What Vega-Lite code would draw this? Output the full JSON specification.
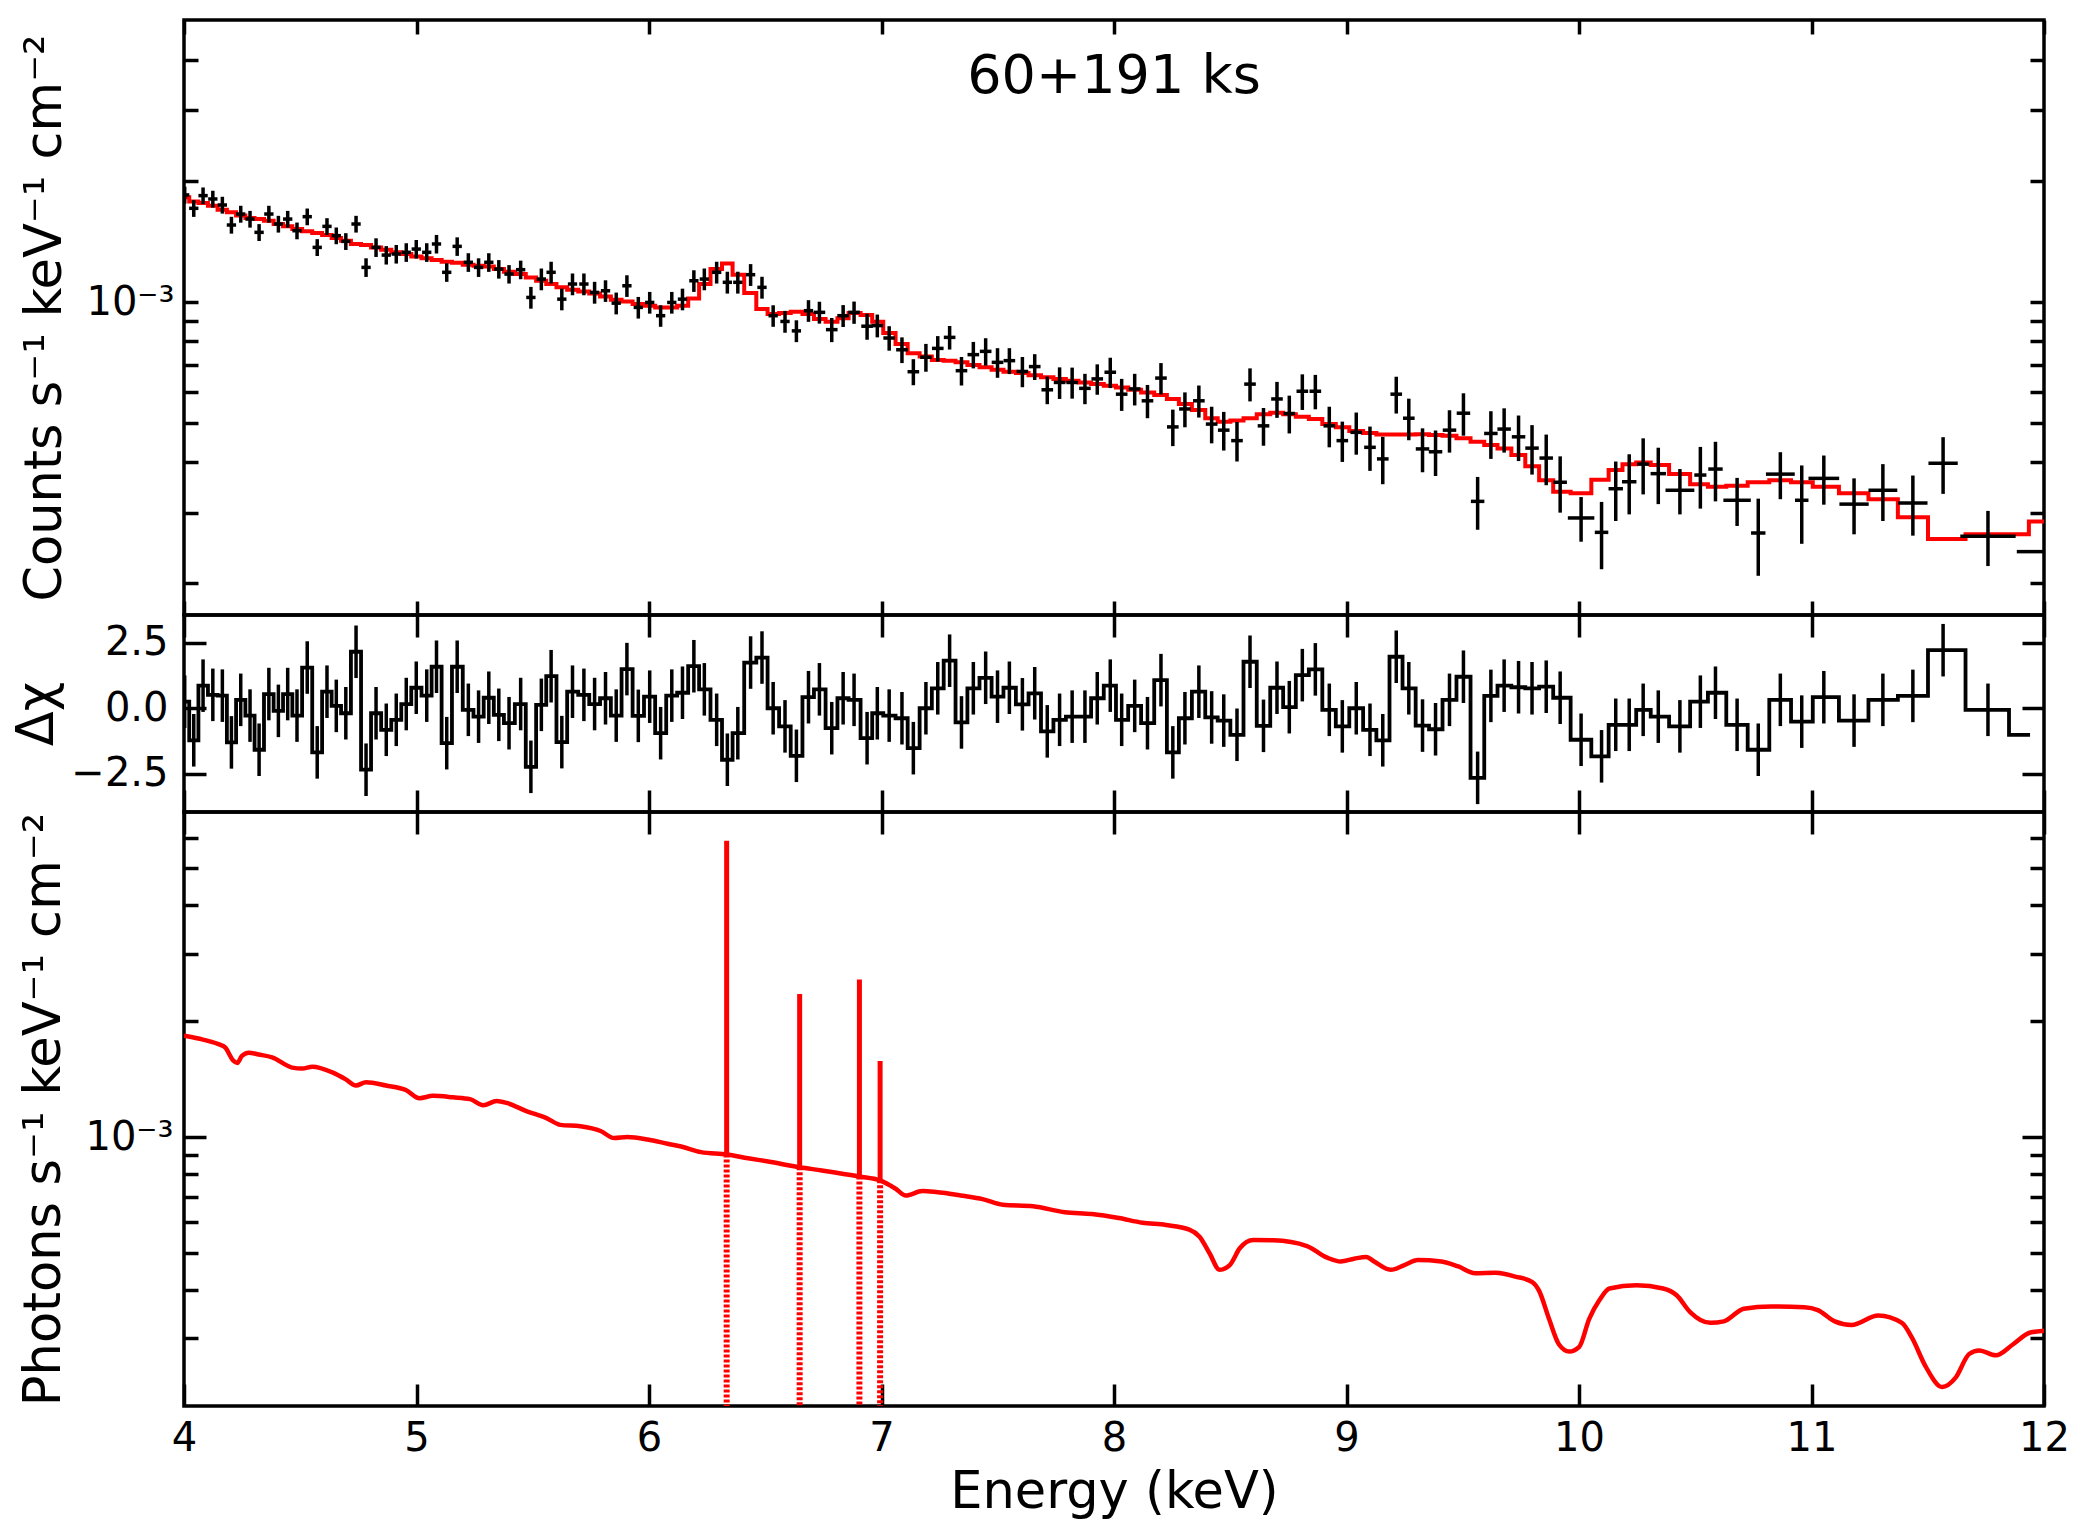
{
  "$schema": "https://vega.github.io/schema/vega-lite/v6.json",
  "background": "white",
  "padding": {"left": 10, "top": 16, "right": 20, "bottom": 20},
  "spacing": 0,
  "bounds": "flush",
  "config": {
    "font": "DejaVu Sans",
    "view": {"stroke": "black", "strokeWidth": 3.5},
    "axis": {
      "domain": false, "grid": false, "ticks": true,
      "tickColor": "black", "tickWidth": 3.5,
      "labelFont": "DejaVu Sans", "labelFontSize": 40, "labelColor": "black",
      "labelFlush": false, "labelOverlap": false,
      "titleFont": "DejaVu Sans", "titleFontSize": 51, "titleFontWeight": "normal", "titleColor": "black"
    }
  },
  "datasets": {
    "bins": [
      {"e":4.003,"xe":0.02,"f":0.001848,"fe":0.000089,"r":0.25,"re":1},
      {"e":4.042,"xe":0.02,"f":0.001712,"fe":0.000082,"r":-1.22,"re":1},
      {"e":4.082,"xe":0.02,"f":0.001841,"fe":0.000088,"r":0.86,"re":1},
      {"e":4.124,"xe":0.02,"f":0.001806,"fe":0.000087,"r":0.51,"re":1},
      {"e":4.165,"xe":0.02,"f":0.001745,"fe":0.000084,"r":0.48,"re":1},
      {"e":4.204,"xe":0.02,"f":0.001556,"fe":0.000075,"r":-1.30,"re":1},
      {"e":4.244,"xe":0.02,"f":0.001657,"fe":0.000080,"r":0.32,"re":1},
      {"e":4.284,"xe":0.02,"f":0.001610,"fe":0.000077,"r":-0.28,"re":1},
      {"e":4.323,"xe":0.02,"f":0.001492,"fe":0.000072,"r":-1.58,"re":1},
      {"e":4.365,"xe":0.02,"f":0.001657,"fe":0.000080,"r":0.54,"re":1},
      {"e":4.406,"xe":0.02,"f":0.001565,"fe":0.000075,"r":-0.10,"re":1},
      {"e":4.446,"xe":0.02,"f":0.001610,"fe":0.000077,"r":0.54,"re":1},
      {"e":4.486,"xe":0.02,"f":0.001506,"fe":0.000072,"r":-0.28,"re":1},
      {"e":4.530,"xe":0.02,"f":0.001632,"fe":0.000078,"r":1.55,"re":1},
      {"e":4.573,"xe":0.02,"f":0.001369,"fe":0.000066,"r":-1.68,"re":1},
      {"e":4.615,"xe":0.02,"f":0.001544,"fe":0.000074,"r":0.63,"re":1},
      {"e":4.655,"xe":0.02,"f":0.001464,"fe":0.000070,"r":0.09,"re":1},
      {"e":4.696,"xe":0.02,"f":0.001417,"fe":0.000068,"r":-0.19,"re":1},
      {"e":4.740,"xe":0.02,"f":0.001565,"fe":0.000075,"r":2.15,"re":1},
      {"e":4.783,"xe":0.02,"f":0.001221,"fe":0.000065,"r":-2.34,"re":1},
      {"e":4.826,"xe":0.02,"f":0.001369,"fe":0.000073,"r":-0.19,"re":1},
      {"e":4.870,"xe":0.02,"f":0.001310,"fe":0.000069,"r":-0.82,"re":1},
      {"e":4.913,"xe":0.02,"f":0.001318,"fe":0.000070,"r":-0.44,"re":1},
      {"e":4.956,"xe":0.02,"f":0.001331,"fe":0.000071,"r":0.16,"re":1},
      {"e":4.999,"xe":0.02,"f":0.001356,"fe":0.000072,"r":0.78,"re":1},
      {"e":5.044,"xe":0.02,"f":0.001331,"fe":0.000071,"r":0.48,"re":1},
      {"e":5.086,"xe":0.02,"f":0.001396,"fe":0.000074,"r":1.58,"re":1},
      {"e":5.130,"xe":0.02,"f":0.001187,"fe":0.000063,"r":-1.33,"re":1},
      {"e":5.175,"xe":0.02,"f":0.001377,"fe":0.000073,"r":1.58,"re":1},
      {"e":5.223,"xe":0.02,"f":0.001257,"fe":0.000067,"r":-0.06,"re":1},
      {"e":5.267,"xe":0.02,"f":0.001221,"fe":0.000065,"r":-0.32,"re":1},
      {"e":5.311,"xe":0.02,"f":0.001257,"fe":0.000067,"r":0.40,"re":1},
      {"e":5.354,"xe":0.02,"f":0.001209,"fe":0.000064,"r":-0.25,"re":1},
      {"e":5.398,"xe":0.02,"f":0.001175,"fe":0.000062,"r":-0.57,"re":1},
      {"e":5.448,"xe":0.02,"f":0.001205,"fe":0.000064,"r":0.16,"re":1},
      {"e":5.492,"xe":0.02,"f":0.001028,"fe":0.000064,"r":-2.23,"re":1},
      {"e":5.537,"xe":0.02,"f":0.001142,"fe":0.000071,"r":0.13,"re":1},
      {"e":5.579,"xe":0.02,"f":0.001187,"fe":0.000074,"r":1.22,"re":1},
      {"e":5.625,"xe":0.02,"f":0.001018,"fe":0.000063,"r":-1.29,"re":1},
      {"e":5.671,"xe":0.02,"f":0.001110,"fe":0.000069,"r":0.63,"re":1},
      {"e":5.720,"xe":0.02,"f":0.001110,"fe":0.000069,"r":0.51,"re":1},
      {"e":5.766,"xe":0.02,"f":0.001058,"fe":0.000066,"r":0.16,"re":1},
      {"e":5.813,"xe":0.02,"f":0.001068,"fe":0.000066,"r":0.38,"re":1},
      {"e":5.859,"xe":0.02,"f":0.000995,"fe":0.000062,"r":-0.28,"re":1},
      {"e":5.905,"xe":0.02,"f":0.001099,"fe":0.000068,"r":1.49,"re":1},
      {"e":5.954,"xe":0.02,"f":0.000971,"fe":0.000060,"r":-0.29,"re":1},
      {"e":6.003,"xe":0.02,"f":0.000999,"fe":0.000062,"r":0.44,"re":1},
      {"e":6.050,"xe":0.02,"f":0.000926,"fe":0.000057,"r":-0.95,"re":1},
      {"e":6.098,"xe":0.02,"f":0.000999,"fe":0.000062,"r":0.48,"re":1},
      {"e":6.144,"xe":0.02,"f":0.001018,"fe":0.000063,"r":0.59,"re":1},
      {"e":6.193,"xe":0.02,"f":0.001131,"fe":0.000070,"r":1.60,"re":1},
      {"e":6.238,"xe":0.02,"f":0.001142,"fe":0.000071,"r":0.72,"re":1},
      {"e":6.291,"xe":0.02,"f":0.001187,"fe":0.000074,"r":-0.44,"re":1},
      {"e":6.337,"xe":0.02,"f":0.001121,"fe":0.000070,"r":-1.96,"re":1},
      {"e":6.382,"xe":0.02,"f":0.001121,"fe":0.000070,"r":-0.95,"re":1},
      {"e":6.437,"xe":0.02,"f":0.001171,"fe":0.000073,"r":1.74,"re":1},
      {"e":6.486,"xe":0.02,"f":0.001089,"fe":0.000068,"r":1.93,"re":1},
      {"e":6.534,"xe":0.02,"f":0.000926,"fe":0.000057,"r":0.00,"re":1},
      {"e":6.585,"xe":0.02,"f":0.000896,"fe":0.000056,"r":-0.69,"re":1},
      {"e":6.634,"xe":0.02,"f":0.000849,"fe":0.000053,"r":-1.81,"re":1},
      {"e":6.686,"xe":0.02,"f":0.000953,"fe":0.000059,"r":0.42,"re":1},
      {"e":6.733,"xe":0.025,"f":0.000944,"fe":0.000059,"r":0.72,"re":1},
      {"e":6.786,"xe":0.025,"f":0.000855,"fe":0.000059,"r":-0.76,"re":1},
      {"e":6.835,"xe":0.025,"f":0.000926,"fe":0.000058,"r":0.38,"re":1},
      {"e":6.882,"xe":0.025,"f":0.000944,"fe":0.000060,"r":0.32,"re":1},
      {"e":6.938,"xe":0.025,"f":0.000872,"fe":0.000065,"r":-1.14,"re":1},
      {"e":6.982,"xe":0.025,"f":0.000875,"fe":0.000057,"r":-0.19,"re":1},
      {"e":7.033,"xe":0.025,"f":0.000815,"fe":0.000057,"r":-0.28,"re":1},
      {"e":7.088,"xe":0.025,"f":0.000762,"fe":0.000056,"r":-0.38,"re":1},
      {"e":7.137,"xe":0.025,"f":0.000672,"fe":0.000050,"r":-1.52,"re":1},
      {"e":7.191,"xe":0.025,"f":0.000730,"fe":0.000058,"r":0.00,"re":1},
      {"e":7.242,"xe":0.025,"f":0.000768,"fe":0.000056,"r":0.76,"re":1},
      {"e":7.293,"xe":0.025,"f":0.000818,"fe":0.000055,"r":1.81,"re":1},
      {"e":7.344,"xe":0.025,"f":0.000676,"fe":0.000055,"r":-0.54,"re":1},
      {"e":7.395,"xe":0.025,"f":0.000741,"fe":0.000056,"r":0.76,"re":1},
      {"e":7.448,"xe":0.025,"f":0.000755,"fe":0.000059,"r":1.16,"re":1},
      {"e":7.499,"xe":0.025,"f":0.000709,"fe":0.000060,"r":0.44,"re":1},
      {"e":7.550,"xe":0.025,"f":0.000716,"fe":0.000053,"r":0.78,"re":1},
      {"e":7.606,"xe":0.025,"f":0.000673,"fe":0.000058,"r":0.15,"re":1},
      {"e":7.659,"xe":0.025,"f":0.000692,"fe":0.000051,"r":0.57,"re":1},
      {"e":7.713,"xe":0.025,"f":0.000606,"fe":0.000048,"r":-0.88,"re":1},
      {"e":7.766,"xe":0.025,"f":0.000632,"fe":0.000057,"r":-0.44,"re":1},
      {"e":7.820,"xe":0.025,"f":0.000632,"fe":0.000056,"r":-0.32,"re":1},
      {"e":7.875,"xe":0.025,"f":0.000611,"fe":0.000053,"r":-0.32,"re":1},
      {"e":7.928,"xe":0.025,"f":0.000645,"fe":0.000056,"r":0.38,"re":1},
      {"e":7.984,"xe":0.025,"f":0.000670,"fe":0.000058,"r":0.86,"re":1},
      {"e":8.033,"xe":0.025,"f":0.000591,"fe":0.000054,"r":-0.44,"re":1},
      {"e":8.089,"xe":0.025,"f":0.000609,"fe":0.000055,"r":0.09,"re":1},
      {"e":8.144,"xe":0.025,"f":0.000569,"fe":0.000054,"r":-0.57,"re":1},
      {"e":8.202,"xe":0.025,"f":0.000648,"fe":0.000058,"r":1.07,"re":1},
      {"e":8.253,"xe":0.025,"f":0.000490,"fe":0.000051,"r":-1.68,"re":1},
      {"e":8.305,"xe":0.025,"f":0.000543,"fe":0.000054,"r":-0.38,"re":1},
      {"e":8.365,"xe":0.025,"f":0.000569,"fe":0.000052,"r":0.63,"re":1},
      {"e":8.420,"xe":0.025,"f":0.000498,"fe":0.000052,"r":-0.35,"re":1},
      {"e":8.472,"xe":0.025,"f":0.000481,"fe":0.000053,"r":-0.47,"re":1},
      {"e":8.529,"xe":0.025,"f":0.000453,"fe":0.000051,"r":-1.01,"re":1},
      {"e":8.585,"xe":0.025,"f":0.000626,"fe":0.000059,"r":1.77,"re":1},
      {"e":8.643,"xe":0.025,"f":0.000493,"fe":0.000053,"r":-0.67,"re":1},
      {"e":8.701,"xe":0.025,"f":0.000575,"fe":0.000059,"r":0.78,"re":1},
      {"e":8.754,"xe":0.025,"f":0.000529,"fe":0.000057,"r":0.04,"re":1},
      {"e":8.810,"xe":0.025,"f":0.000601,"fe":0.000061,"r":1.26,"re":1},
      {"e":8.866,"xe":0.025,"f":0.000601,"fe":0.000059,"r":1.48,"re":1},
      {"e":8.926,"xe":0.025,"f":0.000493,"fe":0.000057,"r":-0.06,"re":1},
      {"e":8.982,"xe":0.025,"f":0.000453,"fe":0.000052,"r":-0.69,"re":1},
      {"e":9.042,"xe":0.025,"f":0.000475,"fe":0.000057,"r":0.00,"re":1},
      {"e":9.101,"xe":0.025,"f":0.000436,"fe":0.000055,"r":-0.82,"re":1},
      {"e":9.156,"xe":0.025,"f":0.000408,"fe":0.000055,"r":-1.22,"re":1},
      {"e":9.214,"xe":0.025,"f":0.000591,"fe":0.000062,"r":1.96,"re":1},
      {"e":9.268,"xe":0.025,"f":0.000515,"fe":0.000061,"r":0.76,"re":1},
      {"e":9.327,"xe":0.029,"f":0.000432,"fe":0.000054,"r":-0.66,"re":1},
      {"e":9.383,"xe":0.029,"f":0.000425,"fe":0.000055,"r":-0.80,"re":1},
      {"e":9.443,"xe":0.029,"f":0.000481,"fe":0.000058,"r":0.32,"re":1},
      {"e":9.503,"xe":0.029,"f":0.000530,"fe":0.000064,"r":1.20,"re":1},
      {"e":9.564,"xe":0.029,"f":0.000320,"fe":0.000048,"r":-2.65,"re":1},
      {"e":9.621,"xe":0.029,"f":0.000472,"fe":0.000064,"r":0.47,"re":1},
      {"e":9.678,"xe":0.029,"f":0.000484,"fe":0.000061,"r":0.86,"re":1},
      {"e":9.740,"xe":0.029,"f":0.000463,"fe":0.000060,"r":0.80,"re":1},
      {"e":9.798,"xe":0.029,"f":0.000434,"fe":0.000061,"r":0.76,"re":1},
      {"e":9.859,"xe":0.029,"f":0.000410,"fe":0.000059,"r":0.82,"re":1},
      {"e":9.919,"xe":0.029,"f":0.000357,"fe":0.000057,"r":0.40,"re":1},
      {"e":10.009,"xe":0.057,"f":0.000291,"fe":0.000037,"r":-1.20,"re":1},
      {"e":10.097,"xe":0.029,"f":0.000268,"fe":0.000051,"r":-1.83,"re":1},
      {"e":10.158,"xe":0.031,"f":0.000344,"fe":0.000058,"r":-0.63,"re":1},
      {"e":10.216,"xe":0.031,"f":0.000358,"fe":0.000061,"r":-0.63,"re":1},
      {"e":10.276,"xe":0.026,"f":0.000396,"fe":0.000063,"r":-0.06,"re":1},
      {"e":10.341,"xe":0.033,"f":0.000375,"fe":0.000060,"r":-0.32,"re":1},
      {"e":10.434,"xe":0.062,"f":0.000341,"fe":0.000044,"r":-0.69,"re":1},
      {"e":10.522,"xe":0.026,"f":0.000372,"fe":0.000065,"r":0.25,"re":1},
      {"e":10.587,"xe":0.031,"f":0.000385,"fe":0.000065,"r":0.59,"re":1},
      {"e":10.680,"xe":0.059,"f":0.000322,"fe":0.000044,"r":-0.63,"re":1},
      {"e":10.771,"xe":0.031,"f":0.000267,"fe":0.000058,"r":-1.58,"re":1},
      {"e":10.866,"xe":0.062,"f":0.000374,"fe":0.000050,"r":0.32,"re":1},
      {"e":10.958,"xe":0.029,"f":0.000322,"fe":0.000071,"r":-0.51,"re":1},
      {"e":11.053,"xe":0.066,"f":0.000365,"fe":0.000051,"r":0.42,"re":1},
      {"e":11.183,"xe":0.063,"f":0.000315,"fe":0.000050,"r":-0.47,"re":1},
      {"e":11.307,"xe":0.062,"f":0.000341,"fe":0.000055,"r":0.32,"re":1},
      {"e":11.436,"xe":0.063,"f":0.000317,"fe":0.000054,"r":0.47,"re":1},
      {"e":11.566,"xe":0.063,"f":0.000398,"fe":0.000064,"r":2.21,"re":1},
      {"e":11.759,"xe":0.119,"f":0.000262,"fe":0.000041,"r":-0.06,"re":1},
      {"e":11.940,"xe":0.057,"f":0.000240,"fe":0.0,"r":-1.01,"re":0}
    ],
    "model": [
      {"e":4.0,"m":0.001823},{"e":4.003,"m":0.001823},{"e":4.042,"m":0.001779},{"e":4.082,"m":0.001765},
      {"e":4.124,"m":0.001738},{"e":4.165,"m":0.001699},{"e":4.204,"m":0.001673},{"e":4.244,"m":0.001642},
      {"e":4.284,"m":0.001620},{"e":4.323,"m":0.001610},{"e":4.365,"m":0.001595},{"e":4.406,"m":0.001565},
      {"e":4.446,"m":0.001544},{"e":4.486,"m":0.001521},{"e":4.530,"m":0.001501},{"e":4.573,"m":0.001486},
      {"e":4.615,"m":0.001469},{"e":4.655,"m":0.001444},{"e":4.696,"m":0.001423},{"e":4.740,"m":0.001396},
      {"e":4.783,"m":0.001388},{"e":4.826,"m":0.001369},{"e":4.870,"m":0.001351},{"e":4.913,"m":0.001331},
      {"e":4.956,"m":0.001318},{"e":4.999,"m":0.001300},{"e":5.044,"m":0.001286},{"e":5.086,"m":0.001274},
      {"e":5.130,"m":0.001261},{"e":5.175,"m":0.001254},{"e":5.223,"m":0.001240},{"e":5.267,"m":0.001233},
      {"e":5.311,"m":0.001228},{"e":5.354,"m":0.001209},{"e":5.398,"m":0.001191},{"e":5.448,"m":0.001175},
      {"e":5.492,"m":0.001153},{"e":5.537,"m":0.001131},{"e":5.579,"m":0.001110},{"e":5.625,"m":0.001089},
      {"e":5.671,"m":0.001074},{"e":5.720,"m":0.001064},{"e":5.766,"m":0.001052},{"e":5.813,"m":0.001034},
      {"e":5.859,"m":0.001015},{"e":5.905,"m":0.001005},{"e":5.954,"m":0.000990},{"e":6.003,"m":0.000980},
      {"e":6.050,"m":0.000971},{"e":6.098,"m":0.000971},{"e":6.144,"m":0.000980},{"e":6.193,"m":0.001022},
      {"e":6.238,"m":0.001110},{"e":6.291,"m":0.001209},{"e":6.337,"m":0.001249},{"e":6.382,"m":0.001171},
      {"e":6.437,"m":0.001054},{"e":6.486,"m":0.000962},{"e":6.534,"m":0.000935},{"e":6.585,"m":0.000940},
      {"e":6.634,"m":0.000947},{"e":6.686,"m":0.000935},{"e":6.733,"m":0.000909},{"e":6.786,"m":0.000895},
      {"e":6.835,"m":0.000912},{"e":6.882,"m":0.000941},{"e":6.938,"m":0.000930},{"e":6.982,"m":0.000895},
      {"e":7.033,"m":0.000839},{"e":7.088,"m":0.000788},{"e":7.137,"m":0.000747},{"e":7.191,"m":0.000733},
      {"e":7.242,"m":0.000719},{"e":7.293,"m":0.000716},{"e":7.344,"m":0.000709},{"e":7.395,"m":0.000698},
      {"e":7.448,"m":0.000689},{"e":7.499,"m":0.000680},{"e":7.550,"m":0.000672},{"e":7.606,"m":0.000667},
      {"e":7.659,"m":0.000659},{"e":7.713,"m":0.000651},{"e":7.766,"m":0.000645},{"e":7.820,"m":0.000638},
      {"e":7.875,"m":0.000632},{"e":7.928,"m":0.000626},{"e":7.984,"m":0.000620},{"e":8.033,"m":0.000614},
      {"e":8.089,"m":0.000606},{"e":8.144,"m":0.000597},{"e":8.202,"m":0.000588},{"e":8.253,"m":0.000575},
      {"e":8.305,"m":0.000559},{"e":8.365,"m":0.000540},{"e":8.420,"m":0.000515},{"e":8.472,"m":0.000505},
      {"e":8.529,"m":0.000508},{"e":8.585,"m":0.000515},{"e":8.643,"m":0.000527},{"e":8.701,"m":0.000531},
      {"e":8.754,"m":0.000527},{"e":8.810,"m":0.000519},{"e":8.866,"m":0.000513},{"e":8.926,"m":0.000498},
      {"e":8.982,"m":0.000489},{"e":9.042,"m":0.000479},{"e":9.101,"m":0.000473},{"e":9.156,"m":0.000469},
      {"e":9.214,"m":0.000469},{"e":9.268,"m":0.000469},{"e":9.327,"m":0.000470},{"e":9.383,"m":0.000468},
      {"e":9.443,"m":0.000466},{"e":9.503,"m":0.000459},{"e":9.564,"m":0.000450},{"e":9.621,"m":0.000442},
      {"e":9.678,"m":0.000433},{"e":9.740,"m":0.000417},{"e":9.798,"m":0.000391},{"e":9.859,"m":0.000361},
      {"e":9.919,"m":0.000338},{"e":10.009,"m":0.000335},{"e":10.097,"m":0.000362},{"e":10.158,"m":0.000383},
      {"e":10.216,"m":0.000396},{"e":10.276,"m":0.000400},{"e":10.341,"m":0.000394},{"e":10.434,"m":0.000374},
      {"e":10.522,"m":0.000353},{"e":10.587,"m":0.000348},{"e":10.680,"m":0.000350},{"e":10.771,"m":0.000357},
      {"e":10.866,"m":0.000361},{"e":10.958,"m":0.000357},{"e":11.053,"m":0.000348},{"e":11.183,"m":0.000335},
      {"e":11.307,"m":0.000324},{"e":11.436,"m":0.000292},{"e":11.566,"m":0.000258},{"e":11.759,"m":0.000265},
      {"e":11.930,"m":0.000265},{"e":11.940,"m":0.000285},{"e":12.0,"m":0.000285}
    ],
    "cont": [
      {"e":4.0,"c":0.001835},{"e":4.062,"c":0.001804},{"e":4.148,"c":0.001744},{"e":4.177,"c":0.001710},
      {"e":4.212,"c":0.001581},{"e":4.229,"c":0.001559},{"e":4.249,"c":0.001626},{"e":4.278,"c":0.001658},
      {"e":4.321,"c":0.001640},{"e":4.379,"c":0.001612},{"e":4.465,"c":0.001516},{"e":4.509,"c":0.001507},
      {"e":4.552,"c":0.001524},{"e":4.638,"c":0.001473},{"e":4.696,"c":0.001413},{"e":4.739,"c":0.001362},
      {"e":4.783,"c":0.001389},{"e":4.869,"c":0.001362},{"e":4.956,"c":0.001324},{"e":5.013,"c":0.001262},
      {"e":5.071,"c":0.001280},{"e":5.157,"c":0.001269},{"e":5.230,"c":0.001255},{"e":5.287,"c":0.001210},
      {"e":5.345,"c":0.001241},{"e":5.388,"c":0.001227},{"e":5.475,"c":0.001167},{"e":5.561,"c":0.001119},
      {"e":5.619,"c":0.001076},{"e":5.705,"c":0.001067},{"e":5.792,"c":0.001037},{"e":5.850,"c":0.000994},
      {"e":5.907,"c":0.001000},{"e":5.994,"c":0.000986},{"e":6.080,"c":0.000961},{"e":6.138,"c":0.000945},
      {"e":6.224,"c":0.000914},{"e":6.334,"c":0.000901},{"e":6.426,"c":0.000881},{"e":6.513,"c":0.000864},
      {"e":6.648,"c":0.000835},{"e":6.743,"c":0.000819},{"e":6.905,"c":0.000790},{"e":6.994,"c":0.000772},
      {"e":7.061,"c":0.000734},{"e":7.104,"c":0.000705},{"e":7.176,"c":0.000724},{"e":7.234,"c":0.000720},
      {"e":7.349,"c":0.000704},{"e":7.435,"c":0.000690},{"e":7.522,"c":0.000667},{"e":7.652,"c":0.000661},
      {"e":7.789,"c":0.000638},{"e":7.905,"c":0.000631},{"e":8.021,"c":0.000616},{"e":8.122,"c":0.000599},
      {"e":8.223,"c":0.000591},{"e":8.324,"c":0.000575},{"e":8.368,"c":0.000551},{"e":8.411,"c":0.000499},
      {"e":8.454,"c":0.000452},{"e":8.498,"c":0.000465},{"e":8.541,"c":0.000514},{"e":8.599,"c":0.000540},
      {"e":8.686,"c":0.000539},{"e":8.830,"c":0.000521},{"e":8.917,"c":0.000486},{"e":8.975,"c":0.000475},
      {"e":9.033,"c":0.000483},{"e":9.085,"c":0.000488},{"e":9.119,"c":0.000475},{"e":9.191,"c":0.000452},
      {"e":9.249,"c":0.000465},{"e":9.307,"c":0.000479},{"e":9.408,"c":0.000475},{"e":9.481,"c":0.000461},
      {"e":9.553,"c":0.000443},{"e":9.640,"c":0.000444},{"e":9.726,"c":0.000434},{"e":9.799,"c":0.000420},
      {"e":9.828,"c":0.000399},{"e":9.871,"c":0.000337},{"e":9.914,"c":0.000289},{"e":9.958,"c":0.000277},
      {"e":10.001,"c":0.000285},{"e":10.044,"c":0.000337},{"e":10.088,"c":0.000377},{"e":10.131,"c":0.000404},
      {"e":10.247,"c":0.000412},{"e":10.362,"c":0.000404},{"e":10.420,"c":0.000388},{"e":10.478,"c":0.000351},
      {"e":10.565,"c":0.000329},{"e":10.623,"c":0.000332},{"e":10.709,"c":0.000358},{"e":10.825,"c":0.000363},
      {"e":10.969,"c":0.000361},{"e":11.027,"c":0.000355},{"e":11.100,"c":0.000332},{"e":11.172,"c":0.000325},
      {"e":11.287,"c":0.000344},{"e":11.389,"c":0.000329},{"e":11.432,"c":0.000301},{"e":11.490,"c":0.000254},
      {"e":11.562,"c":0.000224},{"e":11.620,"c":0.000237},{"e":11.678,"c":0.000273},{"e":11.721,"c":0.000279},
      {"e":11.793,"c":0.000271},{"e":11.866,"c":0.000289},{"e":11.938,"c":0.000310},{"e":12.0,"c":0.000314}
    ],
    "lines": [
      {"e":6.334,"top":0.005889,"base":0.000901},
      {"e":6.648,"top":0.002356,"base":0.000835},
      {"e":6.905,"top":0.002570,"base":0.000790},
      {"e":6.994,"top":0.001577,"base":0.000772}
    ],
    "label": [
      {"e":8.0,"v":0.00363,"t":"60+191 ks"}
    ]
  },
  "vconcat": [
    {
      "width": 1860,
      "height": 595,
      "resolve": {"axis": {"x": "independent", "y": "independent"}},
      "layer": [
        {
          "data": {"name": "model"},
          "mark": {"type": "line", "interpolate": "step", "color": "#ff0000", "strokeWidth": 4, "clip": true},
          "encoding": {
            "x": {"field": "e", "type": "quantitative",
              "scale": {"domain": [4, 12], "nice": false, "zero": false},
              "axis": {"orient": "bottom", "values": [4, 5, 6, 7, 8, 9, 10, 11, 12], "labels": false, "tickSize": -14, "title": null}},
            "y": {"field": "m", "type": "quantitative",
              "scale": {"type": "log", "domain": [0.000167, 0.00503], "nice": false},
              "axis": {"orient": "left", "values": [0.0002, 0.0003, 0.0004, 0.0005, 0.0006, 0.0007, 0.0008, 0.0009, 0.001, 0.002, 0.003, 0.004],
                "labelExpr": "datum.value == 0.001 ? '10⁻³' : ''", "tickSize": -14, "labelPadding": 24,
                "title": "Counts s⁻¹ keV⁻¹ cm⁻²", "titlePadding": 14}}
          }
        },
        {
          "data": {"name": "bins"},
          "mark": {"type": "errorbar", "color": "black", "thickness": 3.5, "clip": true},
          "encoding": {
            "x": {"field": "e", "type": "quantitative",
              "scale": {"domain": [4, 12], "nice": false, "zero": false},
              "axis": {"orient": "top", "values": [4, 5, 6, 7, 8, 9, 10, 11, 12], "labels": false, "tickSize": -14, "title": null}},
            "y": {"field": "f", "type": "quantitative",
              "scale": {"type": "log", "domain": [0.000167, 0.00503], "nice": false},
              "axis": {"orient": "right", "values": [0.0002, 0.0003, 0.0004, 0.0005, 0.0006, 0.0007, 0.0008, 0.0009, 0.001, 0.002, 0.003, 0.004],
                "labels": false, "tickSize": -14, "title": null}},
            "yError": {"field": "fe"}
          }
        },
        {
          "data": {"name": "bins"},
          "mark": {"type": "errorbar", "color": "black", "thickness": 3.5, "clip": true},
          "encoding": {
            "x": {"field": "e", "type": "quantitative", "scale": {"domain": [4, 12], "nice": false, "zero": false}, "axis": null},
            "xError": {"field": "xe"},
            "y": {"field": "f", "type": "quantitative", "scale": {"type": "log", "domain": [0.000167, 0.00503], "nice": false}, "axis": null}
          }
        },
        {
          "data": {"name": "label"},
          "mark": {"type": "text", "fontSize": 54, "font": "DejaVu Sans", "color": "black", "align": "center", "baseline": "middle"},
          "encoding": {
            "x": {"field": "e", "type": "quantitative", "scale": {"domain": [4, 12], "nice": false, "zero": false}, "axis": null},
            "y": {"field": "v", "type": "quantitative", "scale": {"type": "log", "domain": [0.000167, 0.00503], "nice": false}, "axis": null},
            "text": {"field": "t"}
          }
        }
      ]
    },
    {
      "width": 1860,
      "height": 197,
      "resolve": {"axis": {"x": "independent", "y": "independent"}},
      "layer": [
        {
          "data": {"name": "bins"},
          "mark": {"type": "line", "interpolate": "step", "color": "black", "strokeWidth": 3.8, "clip": true},
          "encoding": {
            "x": {"field": "e", "type": "quantitative",
              "scale": {"domain": [4, 12], "nice": false, "zero": false},
              "axis": {"orient": "bottom", "values": [4, 5, 6, 7, 8, 9, 10, 11, 12], "labels": false, "tickSize": -22, "title": null}},
            "y": {"field": "r", "type": "quantitative",
              "scale": {"domain": [-3.95, 3.55], "nice": false, "zero": false},
              "axis": {"orient": "left", "values": [-2.5, 0, 2.5],
                "labelExpr": "datum.value < 0 ? '−2.5' : format(datum.value, '.1f')", "tickSize": -22, "labelPadding": 38,
                "title": "Δχ", "titlePadding": 7}}
          }
        },
        {
          "data": {"name": "bins"},
          "mark": {"type": "errorbar", "color": "black", "thickness": 3.5, "clip": true},
          "encoding": {
            "x": {"field": "e", "type": "quantitative",
              "scale": {"domain": [4, 12], "nice": false, "zero": false},
              "axis": {"orient": "top", "values": [4, 5, 6, 7, 8, 9, 10, 11, 12], "labels": false, "tickSize": -22, "title": null}},
            "y": {"field": "r", "type": "quantitative",
              "scale": {"domain": [-3.95, 3.55], "nice": false, "zero": false},
              "axis": {"orient": "right", "values": [-2.5, 0, 2.5], "labels": false, "tickSize": -22, "title": null}},
            "yError": {"field": "re"}
          }
        },
        {
          "mark": {"type": "rule", "color": "#ff0000", "strokeWidth": 4, "strokeDash": [4, 5.5]},
          "encoding": {
            "y": {"datum": 0, "type": "quantitative", "axis": null}
          }
        }
      ]
    },
    {
      "width": 1860,
      "height": 594,
      "resolve": {"axis": {"x": "independent", "y": "independent"}},
      "layer": [
        {
          "data": {"name": "cont"},
          "mark": {"type": "line", "interpolate": "monotone", "color": "#ff0000", "strokeWidth": 4.5, "clip": true},
          "encoding": {
            "x": {"field": "e", "type": "quantitative",
              "scale": {"domain": [4, 12], "nice": false, "zero": false},
              "axis": {"orient": "bottom", "values": [4, 5, 6, 7, 8, 9, 10, 11, 12], "format": "d", "tickSize": -22, "labelPadding": 34,
                "title": "Energy (keV)", "titlePadding": 9}},
            "y": {"field": "c", "type": "quantitative",
              "scale": {"type": "log", "domain": [0.0002, 0.007], "nice": false},
              "axis": {"orient": "left", "values": [0.001], "labelExpr": "'10⁻³'", "tickSize": -22, "labelPadding": 33,
                "title": "Photons s⁻¹ keV⁻¹ cm⁻²", "titlePadding": 14}}
          }
        },
        {
          "data": {"name": "lines"},
          "mark": {"type": "rule", "color": "#ff0000", "strokeWidth": 5},
          "encoding": {
            "x": {"field": "e", "type": "quantitative",
              "scale": {"domain": [4, 12], "nice": false, "zero": false},
              "axis": {"orient": "top", "values": [4, 5, 6, 7, 8, 9, 10, 11, 12], "labels": false, "tickSize": -22, "title": null}},
            "y": {"field": "base", "type": "quantitative",
              "scale": {"type": "log", "domain": [0.0002, 0.007], "nice": false},
              "axis": {"orient": "right", "values": [0.001], "labels": false, "tickSize": -22, "title": null}},
            "y2": {"field": "top"}
          }
        },
        {
          "data": {"name": "lines"},
          "mark": {"type": "rule", "color": "#ff0000", "strokeWidth": 6, "strokeDash": [3, 2]},
          "encoding": {
            "x": {"field": "e", "type": "quantitative", "scale": {"domain": [4, 12], "nice": false, "zero": false}, "axis": null},
            "y": {"field": "base", "type": "quantitative",
              "scale": {"type": "log", "domain": [0.0002, 0.007], "nice": false},
              "axis": {"orient": "left", "values": [0.0003, 0.0004, 0.0005, 0.0006, 0.0007, 0.0008, 0.0009, 0.002, 0.003, 0.004, 0.005, 0.006],
                "labels": false, "tickSize": -14, "title": null}},
            "y2": {"datum": 0.0002}
          }
        },
        {
          "data": {"name": "cont"},
          "mark": {"type": "line", "opacity": 0, "clip": true},
          "encoding": {
            "x": {"field": "e", "type": "quantitative", "scale": {"domain": [4, 12], "nice": false, "zero": false}, "axis": null},
            "y": {"field": "c", "type": "quantitative",
              "scale": {"type": "log", "domain": [0.0002, 0.007], "nice": false},
              "axis": {"orient": "right", "values": [0.0003, 0.0004, 0.0005, 0.0006, 0.0007, 0.0008, 0.0009, 0.002, 0.003, 0.004, 0.005, 0.006],
                "labels": false, "tickSize": -14, "title": null}}
          }
        }
      ]
    }
  ]
}
